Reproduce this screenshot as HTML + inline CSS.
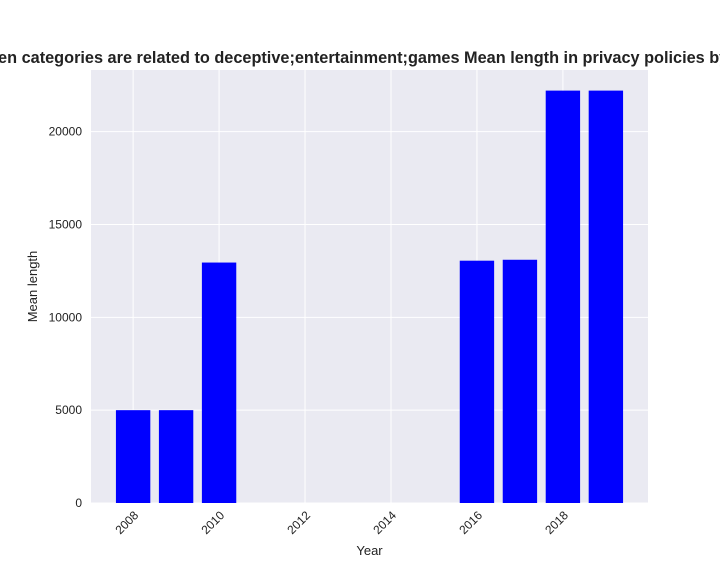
<!DOCTYPE html>
<html><head><meta charset="utf-8"><style>body{margin:0;background:#fff}svg{display:block;font-family:"Liberation Sans",sans-serif}</style></head>
<body>
<svg id="chart" width="720" height="576">
<rect x="91" y="70" width="557" height="433" fill="#eaeaf2"/>
<g id="grid"></g><g id="bars"></g><g id="ticks"></g>
<text x="369.5" y="63" text-anchor="middle" font-size="16.3" font-weight="bold" fill="#222">When categories are related to deceptive;entertainment;games Mean length in privacy policies by year</text>
<text x="369.5" y="555" text-anchor="middle" font-size="13" fill="#222">Year</text>
<text transform="translate(37,286.5) rotate(-90)" text-anchor="middle" font-size="13" fill="#222">Mean length</text>
</svg>
<script>
const years=[2008,2009,2010,2016,2017,2018,2019];
const values=[5000,5000,12950,13050,13100,22210,22210];
const xTicks=[2008,2010,2012,2014,2016,2018];
const yTicks=[0,5000,10000,15000,20000];
const NS="http://www.w3.org/2000/svg";
const L=91,R=648,T=70,B=503,x0=2007.02,x1=2019.98,yMax=23320;
const xs=v=>L+(v-x0)/(x1-x0)*(R-L);
const ys=v=>B-v/yMax*(B-T);
function mk(t,a,p){const e=document.createElementNS(NS,t);for(const k in a)e.setAttribute(k,a[k]);p.appendChild(e);return e;}
const g=document.getElementById('grid'),b=document.getElementById('bars'),tk=document.getElementById('ticks');
xTicks.forEach(v=>{const x=xs(v);
 const l=mk('line',{x1:x,x2:x,y1:T,y2:B,stroke:'#fff','stroke-width':1},g);
 
 
 const t=mk('text',{transform:`translate(${x+6},${B+13}) rotate(-45)`,'text-anchor':'end','font-size':12,fill:'#222'},tk);
 t.textContent=v;
 
 });
yTicks.forEach(v=>{const y=ys(v);
 const l=mk('line',{x1:L,x2:R,y1:y,y2:y,stroke:'#fff','stroke-width':1},g);
 
 
 const t=mk('text',{x:L-9,y:y+4,'text-anchor':'end','font-size':12,fill:'#222'},tk);
 t.textContent=v;
 
 });
const w=(xs(1)-xs(0))*0.8;
years.forEach((yr,i)=>{const r=mk('rect',{x:xs(yr)-w/2,y:ys(values[i]),width:w,height:B-ys(values[i]),fill:'#0000ff'},b);
 
 });
</script>
</body></html>
